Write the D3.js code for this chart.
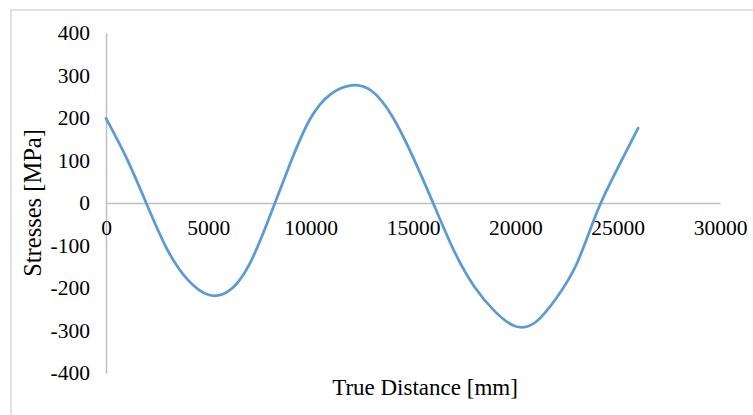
<!DOCTYPE html>
<html>
<head>
<meta charset="utf-8">
<script src="https://cdn.jsdelivr.net/npm/d3@7"></script>
<style>
  body { margin: 0; background: #fff; }
  svg { display: block; }
  text { font-family: "Liberation Serif", "Times New Roman", serif; fill: #000; }
</style>
</head>
<body>
<svg id="chart" width="753" height="415"></svg>
<script>
// distance along the line [mm] and stress [MPa]
const distances = [0, 1000, 2000, 3000, 4000, 5000, 6000, 7000, 8000, 9000, 10000, 11000, 12000,
  13000, 14000, 15000, 16000, 17000, 18000, 19000, 20000, 21000, 22000, 23000, 24000, 25000, 26000];
const stresses = [199, 106, -4, -110, -181, -216, -207, -145, -32, 93, 200, 257, 277,
  263, 203, 108, -2, -112, -197, -255, -290, -280, -224, -143, -20, 82, 176];

const xTicks = [0, 5000, 10000, 15000, 20000, 25000, 30000];
const yTicks = [400, 300, 200, 100, 0, -100, -200, -300, -400];

const points = distances.map((d, i) => ({ d: d, v: stresses[i] }));

const svg = d3.select("#chart");

// light frame around the chart area
svg.append("path")
  .attr("d", "M11,415 V10 H753")
  .attr("fill", "none")
  .attr("stroke", "#d9d9d9")
  .attr("stroke-width", 1.5);

const x = d3.scaleLinear().domain([0, 30000]).range([106, 720]);
const y = d3.scaleLinear().domain([-400, 400]).range([373, 33]);

// plain hyphen for negatives, like the original
const fmt = d => String(d);

// y axis
const yAxis = svg.append("g")
  .attr("transform", `translate(${x(0)},0)`)
  .call(d3.axisLeft(y).tickValues(yTicks).tickFormat(fmt).tickSize(0).tickPadding(16));
yAxis.select(".domain").attr("stroke", "#bfbfbf").attr("stroke-width", 1.5);
yAxis.selectAll("text")
  .style("font-family", "Liberation Serif, serif")
  .style("font-size", "21.5px")
  .attr("fill", "#000");

// x axis sits on the zero line, labels just below
const xAxis = svg.append("g")
  .attr("transform", `translate(0,${y(0)})`)
  .call(d3.axisBottom(x).tickValues(xTicks).tickFormat(fmt).tickSize(0).tickPadding(17));
xAxis.select(".domain").attr("stroke", "#bfbfbf").attr("stroke-width", 1.5);
xAxis.selectAll("text")
  .style("font-family", "Liberation Serif, serif")
  .style("font-size", "21.5px")
  .attr("fill", "#000");

const line = d3.line()
  .x(d => x(d.d))
  .y(d => y(d.v))
  .curve(d3.curveNatural);

svg.append("path")
  .datum(points)
  .attr("d", line)
  .attr("fill", "none")
  .attr("stroke", "#5b9bd5")
  .attr("stroke-width", 2.75)
  .attr("stroke-linecap", "round");

// axis titles
svg.append("text")
  .attr("x", 425)
  .attr("y", 395)
  .attr("text-anchor", "middle")
  .style("font-size", "23px")
  .text("True Distance [mm]");

svg.append("text")
  .attr("transform", "translate(41,203) rotate(-90)")
  .attr("text-anchor", "middle")
  .style("font-size", "24.5px")
  .text("Stresses [MPa]");
</script>
</body>
</html>
